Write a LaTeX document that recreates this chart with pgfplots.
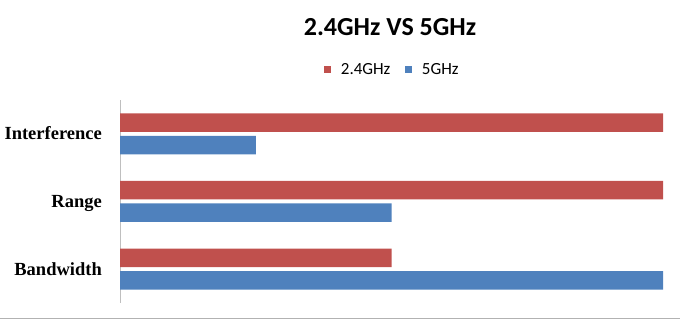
\documentclass[border=0pt]{standalone}
\usepackage{pgfplots}
\pgfplotsset{compat=1.18}
\usepackage{fontspec}
\setmainfont{Carlito}
\newfontfamily\labfont{Liberation Serif}
\definecolor{cred}{HTML}{C0504D}
\definecolor{cblue}{HTML}{4F81BD}
\definecolor{axgray}{HTML}{BFBFBF}
\begin{document}
\begin{tikzpicture}
\path[use as bounding box] (0,0) rectangle (680pt,320pt);
\begin{axis}[
  at={(120pt,17pt)}, anchor=south west,
  width=543pt, height=203pt, scale only axis,
  xbar, bar width=18.5pt,
  xmin=0, xmax=100, ymin=-0.5, ymax=2.5,
  axis lines*=left,
  x axis line style={draw=none},
  y axis line style={draw=axgray, line width=1pt, -},
  xtick=\empty,
  ytick={0,1,2},
  yticklabels={Bandwidth,Range,Interference},
  major tick length=0pt,
  yticklabel style={font=\labfont\bfseries\fontsize{18.5}{20}\selectfont, inner sep=0pt, xshift=-18pt, text height=11.7pt, text depth=0pt},
  legend columns=2,
  legend style={draw=none, fill=none, at={(0.5,1)}, anchor=center, yshift=30.5pt,
    font=\fontsize{17}{19}\selectfont, nodes={inner sep=0pt},
    /tikz/every even column/.append style={column sep=15pt}},
  legend image code/.code={\fill[#1] (0pt,-3.25pt) rectangle (6.5pt,3.25pt); \path (16.5pt,0pt);},
]
\addplot[fill=cred, draw=none, bar shift=11.25pt] coordinates {(100,2) (100,1) (50,0)};
\addlegendentry{2.4GHz}
\addplot[fill=cblue, draw=none, bar shift=-11.25pt] coordinates {(25,2) (50,1) (100,0)};
\addlegendentry{5GHz}
\end{axis}
\node[anchor=base, font=\bfseries\fontsize{26}{30}\selectfont, inner sep=0pt] at (390pt,284pt) {2.4GHz VS 5GHz};
\draw[gray!60, line width=1pt] (0pt,1.5pt) -- (680pt,1.5pt);
\end{tikzpicture}
\end{document}
